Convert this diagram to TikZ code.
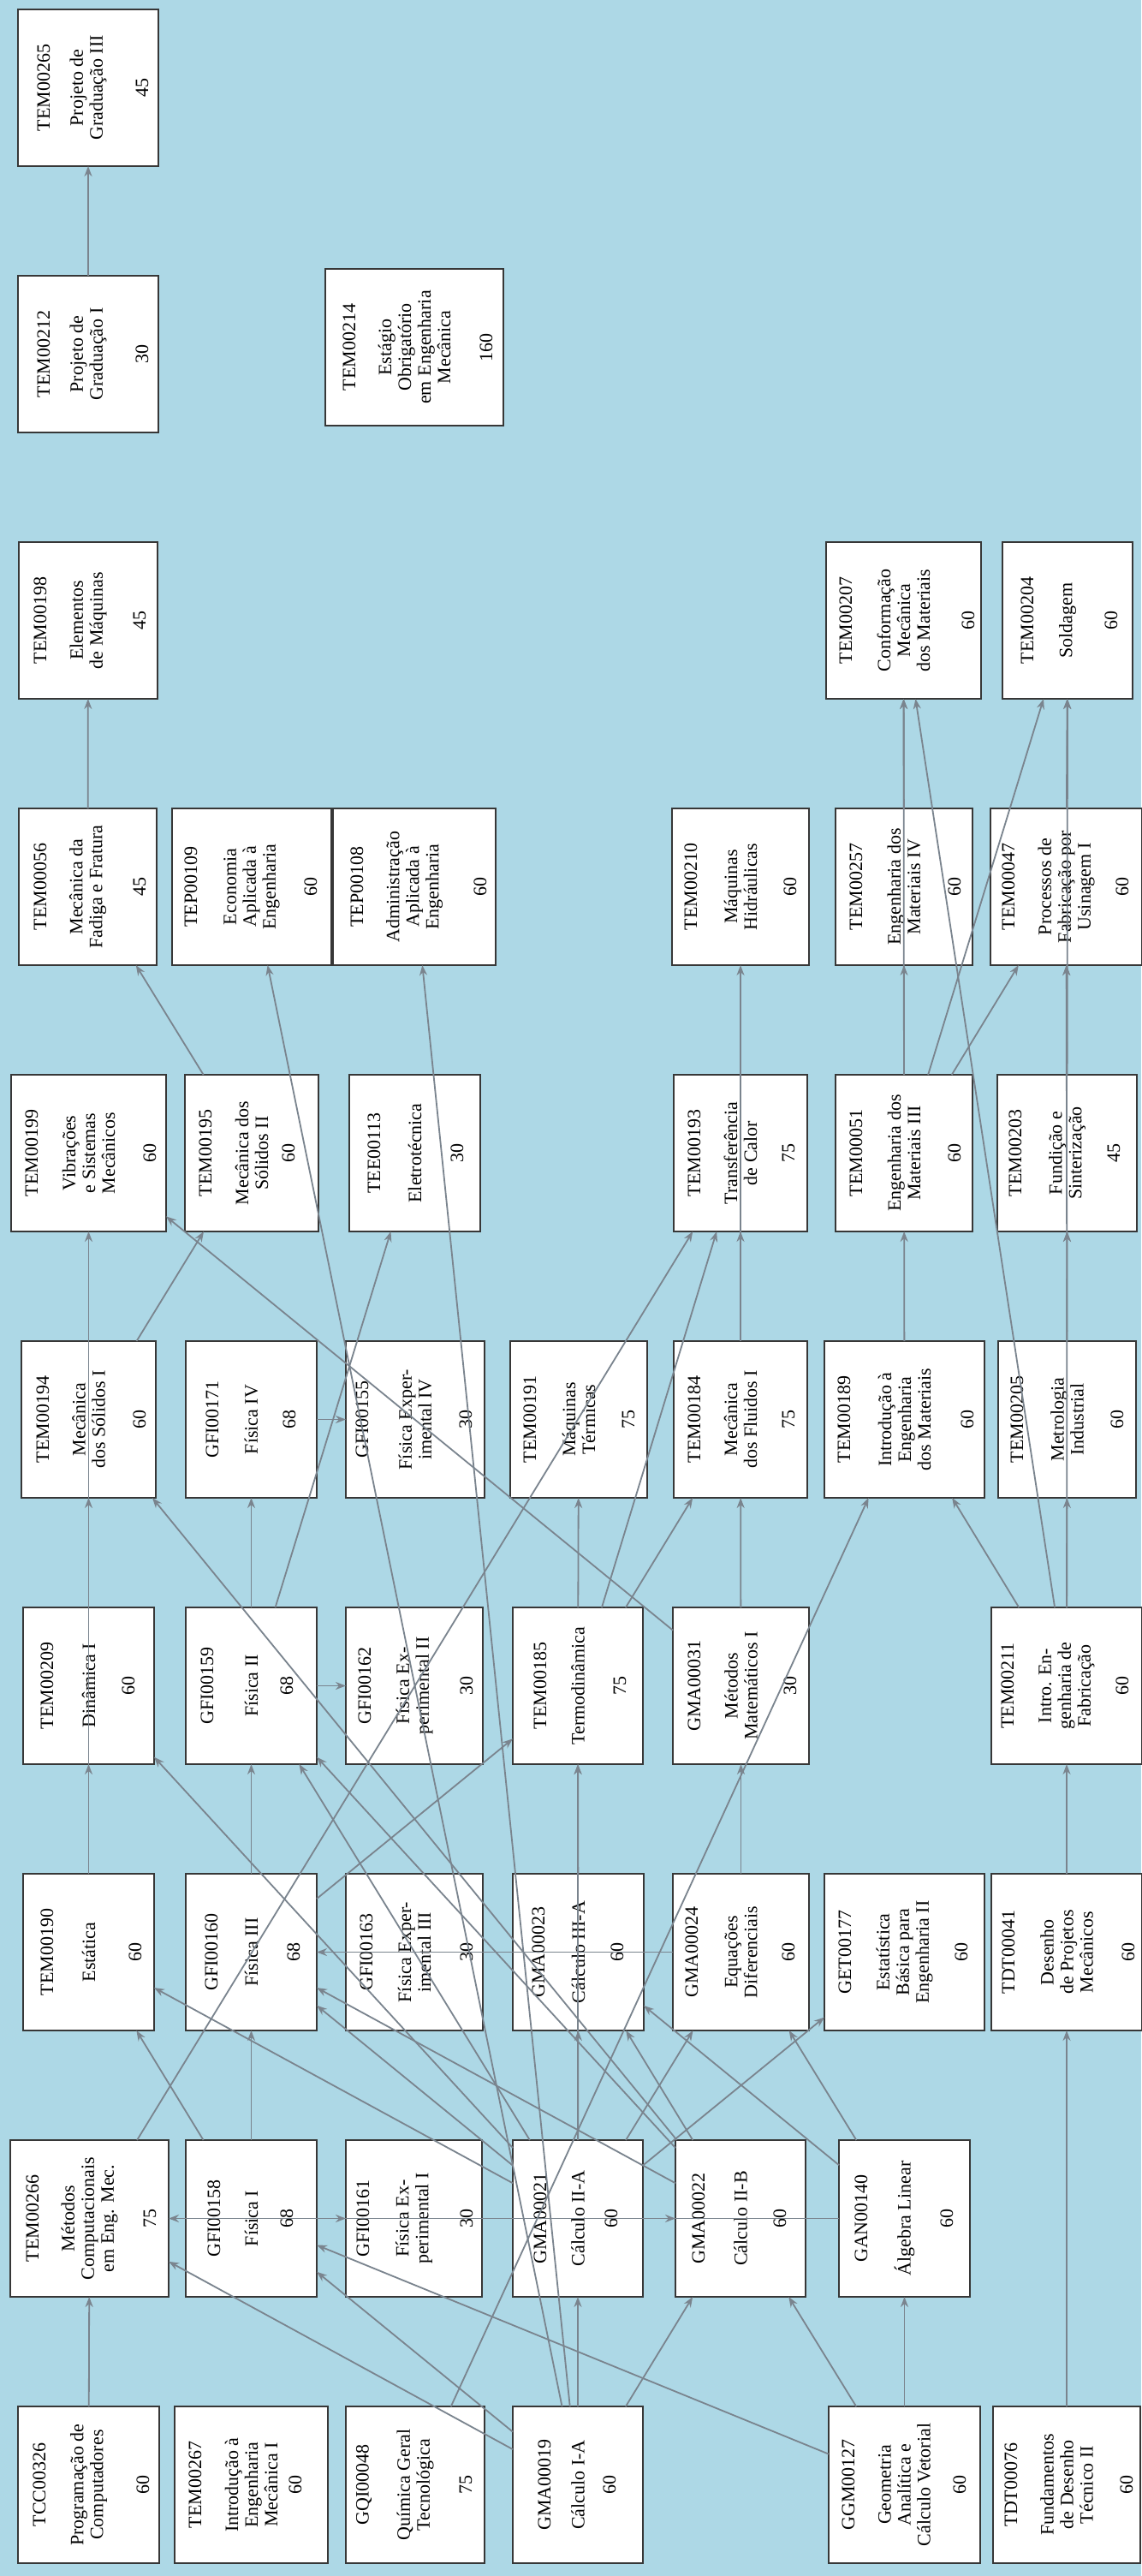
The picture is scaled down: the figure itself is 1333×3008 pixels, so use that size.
\documentclass[tikz,border=0pt]{standalone}
\usepackage{fontspec}
\setmainfont{Liberation Serif}
\usetikzlibrary{arrows.meta}
\definecolor{bgc}{RGB}{173,216,230}
\definecolor{edgec}{RGB}{122,132,142}
\definecolor{boxc}{RGB}{55,55,55}
\tikzset{
  box/.style={draw=boxc, line width=1pt, fill=white, minimum height=91.5pt, inner sep=0pt, outer sep=0pt},
  txt/.style={rotate=90, font=\fontsize{11}{11.5}\selectfont, inner sep=0pt},
  pre/.style={draw=edgec, line width=0.9pt, -{Stealth[length=6pt,width=4.5pt]}},
}
% #1 name, #2 x1, #3 x2, #4 row, #5 code, #6 title, #7 hours, #8 code offset, #9 hours offset
\newcommand{\course}[9]{%
  \pgfmathsetmacro{\cTop}{2810-(#4-1)*311}%
  \pgfmathsetmacro{\cCy}{\cTop+91.5}%
  \pgfmathsetmacro{\cCx}{(#2+#3)/2}%
  \pgfmathsetmacro{\cW}{(#3-#2)*0.5}%
  \node[box, minimum width=\cW pt] (#1) at (\cCx,\cCy) {};
  \node[txt] (#1-c) at ({#2+#8},\cCy) {#5};
  \node[txt, align=center] (#1-t) at (\cCx,\cCy) {#6};
  \node[txt] (#1-h) at ({#3-#9},\cCy) {#7};
}
\begin{document}
\begin{tikzpicture}[x=0.5pt,y=-0.5pt]
\fill[bgc] (0,0) rectangle (1333,3008);
\useasboundingbox (0,0) rectangle (1333,3008);

% semester 1
\course{TCC}{21}{186}{1}{TCC00326}{Programação de\\Computadores}{60}{25}{19}
\course{TEM267}{204}{383}{1}{TEM00267}{Introdução à\\Engenharia\\Mecânica I}{60}{24}{38}
\course{GQI}{404}{566}{1}{GQI00048}{Química Geral\\Tecnológica}{75}{21}{22}
\course{GMA19}{599}{751}{1}{GMA00019}{Cálculo I-A}{60}{37}{39}
\course{GGM}{968}{1145}{1}{GGM00127}{Geometria\\Analítica e\\Cálculo Vetorial}{60}{23}{24}
\course{TDT76}{1160}{1332}{1}{TDT00076}{Fundamentos\\de Desenho\\Técnico II}{60}{21}{16}
% semester 2
\course{TEM266}{12}{197}{2}{TEM00266}{Métodos\\Computacionais\\em Eng. Mec.}{75}{26}{22}
\course{GFI158}{217}{370}{2}{GFI00158}{Física I}{68}{33}{35}
\course{GFI161}{404}{563}{2}{GFI00161}{Física Ex-\\perimental I}{30}{20}{18}
\course{GMA21}{599}{751}{2}{GMA00021}{Cálculo II-A}{60}{32}{37}
\course{GMA22}{789}{941}{2}{GMA00022}{Cálculo II-B}{60}{27}{30}
\course{GAN}{980}{1133}{2}{GAN00140}{Álgebra Linear}{60}{26}{27}
% semester 3
\course{TEM190}{27}{180}{3}{TEM00190}{Estática}{60}{28}{22}
\course{GFI160}{217}{370}{3}{GFI00160}{Física III}{68}{30}{27}
\course{GFI163}{404}{564}{3}{GFI00163}{Física Exper-\\imental III}{30}{24}{19}
\course{GMA23}{599}{752}{3}{GMA00023}{Cálculo III-A}{60}{30}{31}
\course{GMA24}{786}{945}{3}{GMA00024}{Equações\\Diferenciais}{60}{22}{24}
\course{GET}{963}{1150}{3}{GET00177}{Estatística\\Básica para\\Engenharia II}{60}{24}{27}
\course{TDT41}{1158}{1334}{3}{TDT00041}{Desenho\\de Projetos\\Mecânicos}{60}{20}{16}
% semester 4
\course{TEM209}{27}{180}{4}{TEM00209}{Dinâmica I}{60}{28}{30}
\course{GFI159}{217}{370}{4}{GFI00159}{Física II}{68}{25}{35}
\course{GFI162}{404}{564}{4}{GFI00162}{Física Ex-\\perimental II}{30}{22}{19}
\course{TEM185}{599}{751}{4}{TEM00185}{Termodinâmica}{75}{32}{27}
\course{GMA31}{786}{945}{4}{GMA00031}{Métodos\\Matemáticos I}{30}{25}{22}
\course{TEM211}{1158}{1334}{4}{TEM00211}{Intro. En-\\genharia de\\Fabricação}{60}{19}{23}
% semester 5
\course{TEM194}{25}{182}{5}{TEM00194}{Mecânica\\dos Sólidos I}{60}{25}{19}
\course{GFI171}{217}{370}{5}{GFI00171}{Física IV}{68}{31}{32}
\course{GFI155}{404}{566}{5}{GFI00155}{Física Exper-\\imental IV}{30}{19}{22}
\course{TEM191}{596}{756}{5}{TEM00191}{Máquinas\\Térmicas}{75}{23}{22}
\course{TEM184}{787}{943}{5}{TEM00184}{Mecânica\\dos Fluidos I}{75}{24}{22}
\course{TEM189}{963}{1150}{5}{TEM00189}{Introdução à\\Engenharia\\dos Materiais}{60}{23}{20}
\course{TEM205}{1166}{1327}{5}{TEM00205}{Metrologia\\Industrial}{60}{22}{22}
% semester 6
\course{TEM199}{13}{194}{6}{TEM00199}{Vibrações\\e Sistemas\\Mecânicos}{60}{24}{19}
\course{TEM195}{216}{372}{6}{TEM00195}{Mecânica dos\\Sólidos II}{60}{24}{35}
\course{TEE113}{408}{561}{6}{TEE00113}{Eletrotécnica}{30}{29}{27}
\course{TEM193}{787}{943}{6}{TEM00193}{Transferência\\de Calor}{75}{24}{22}
\course{TEM051}{976}{1136}{6}{TEM00051}{Engenharia dos\\Materiais III}{60}{24}{21}
\course{TEM203}{1165}{1328}{6}{TEM00203}{Fundição e\\Sinterização}{45}{21}{27}
% semester 7
\course{TEM056}{22}{183}{7}{TEM00056}{Mecânica da\\Fadiga e Fratura}{45}{25}{20}
\course{TEP109}{201}{387}{7}{TEP00109}{Economia\\Aplicada à\\Engenharia}{60}{22}{24}
\course{TEP108}{389}{579}{7}{TEP00108}{Administração\\Aplicada à\\Engenharia}{60}{28}{18}
\course{TEM210}{785}{945}{7}{TEM00210}{Máquinas\\Hidráulicas}{60}{22}{22}
\course{TEM257}{976}{1136}{7}{TEM00257}{Engenharia dos\\Materiais IV}{60}{24}{21}
\course{TEM047}{1157}{1334}{7}{TEM00047}{Processos de\\Fabricação por\\Usinagem I}{60}{21}{23}
% semester 8
\course{TEM198}{22}{184}{8}{TEM00198}{Elementos\\de Máquinas}{45}{25}{21}
\course{TEM207}{965}{1146}{8}{TEM00207}{Conformação\\Mecânica\\dos Materiais}{60}{23}{15}
\course{TEM204}{1171}{1323}{8}{TEM00204}{Soldagem}{60}{29}{25}
% semester 9
\course{TEM212}{21}{185}{9}{TEM00212}{Projeto de\\Graduação I}{30}{30}{19}
\node[box, minimum width=104pt] (TEM214) at (484,405.5) {};
\node[txt] (TEM214-c) at (408,405.5) {TEM00214};
\node[txt, align=center] (TEM214-t) at (484,405.5) {Estágio\\Obrigatório\\em Engenharia\\Mecânica};
\node[txt] (TEM214-h) at (568,405.5) {160};
% semester 10
\course{TEM265}{21}{185}{10}{TEM00265}{Projeto de\\Graduação III}{45}{30}{19}

% prerequisites
\draw[pre] (TCC) -- (TEM266);
\draw[pre] (GMA19) -- (TEM266);
\draw[pre] (GAN) -- (TEM266);
\draw[pre] (GFI158) -- (GFI161);
\draw[pre] (GMA21) -- (GMA22);
\draw[pre] (GMA19) -- (GMA21);
\draw[pre] (GMA19) -- (GMA22);
\draw[pre] (GGM) -- (GMA22);
\draw[pre] (GGM) -- (GAN);
\draw[pre] (GGM) -- (GFI158);
\draw[pre] (GMA19) -- (GFI158);
\draw[pre] (GFI158) -- (GFI160);
\draw[pre] (GFI158) -- (TEM190);
\draw[pre] (TDT76) -- (TDT41);
\draw[pre] (TDT41) -- (TEM211);
\draw[pre] (GMA21) -- (GMA23);
\draw[pre] (GMA21) -- (TEM185);
\draw[pre] (GMA23) -- (TEM185);
\draw[pre] (TEM185) -- (TEM191);
\draw[pre] (TEM185) -- (TEM184);
\draw[pre] (TEM185) -- (TEM193);
\draw[pre] (TEM266) -- (TEM193);
\draw[pre] (GFI160) -- (TEM185);
\draw[pre] (GMA24) -- (GFI160);
\draw[pre] (GMA24) -- (GMA31);
\draw[pre] (GMA31) -- (TEM184);
\draw[pre] (TEM184) -- (TEM193);
\draw[pre] (TEM184) -- (TEM210);
\draw[pre] (GMA31) -- (TEM199);
\draw[pre] (TEM194) -- (TEM195);
\draw[pre] (TEM195) -- (TEM056);
\draw[pre] (TEM056) -- (TEM198);
\draw[pre] (TEM212) -- (TEM265);
\draw[pre] (GMA19) -- (TEP109);
\draw[pre] (GMA19) -- (TEP108);
\draw[pre] (GFI159) -- (TEE113);
\draw[pre] (GFI160) -- (GFI159);
\draw[pre] (GFI159) -- (GFI171);
\draw[pre] (GFI159) -- (GFI162);
\draw[pre] (GFI171) -- (GFI155);
\draw[pre] (TEM190) -- (TEM209);
\draw[pre] (TEM190) -- (TEM194);
\draw[pre] (TEM209) -- (TEM199);
\draw[pre] (GMA22) -- (TEM194);
\draw[pre] (GMA21) -- (TEM209);
\draw[pre] (GMA21) -- (TEM190);
\draw[pre] (GMA21) -- (GFI160);
\draw[pre] (GMA22) -- (GFI160);
\draw[pre] (GMA21) -- (GFI159);
\draw[pre] (GMA22) -- (GFI159);
\draw[pre] (GMA21) -- (GET);
\draw[pre] (GAN) -- (GMA24);
\draw[pre] (GMA21) -- (GMA24);
\draw[pre] (GMA22) -- (GMA23);
\draw[pre] (GAN) -- (GMA23);
\draw[pre] (GQI) -- (TEM189);
\draw[pre] (TEM211) -- (TEM189);
\draw[pre] (TEM211) -- (TEM207);
\draw[pre] (TEM211) -- (TEM205);
\draw[pre] (TEM211) -- (TEM203);
\draw[pre] (TEM205) -- (TEM203);
\draw[pre] (TEM205) -- (TEM047);
\draw[pre] (TEM203) -- (TEM047);
\draw[pre] (TEM203) -- (TEM204);
\draw[pre] (TEM047) -- (TEM204);
\draw[pre] (TEM189) -- (TEM051);
\draw[pre] (TEM051) -- (TEM257);
\draw[pre] (TEM257) -- (TEM207);
\draw[pre] (TEM051) -- (TEM207);
\draw[pre] (TEM051) -- (TEM204);
\draw[pre] (TEM051) -- (TEM047);
\end{tikzpicture}
\end{document}
